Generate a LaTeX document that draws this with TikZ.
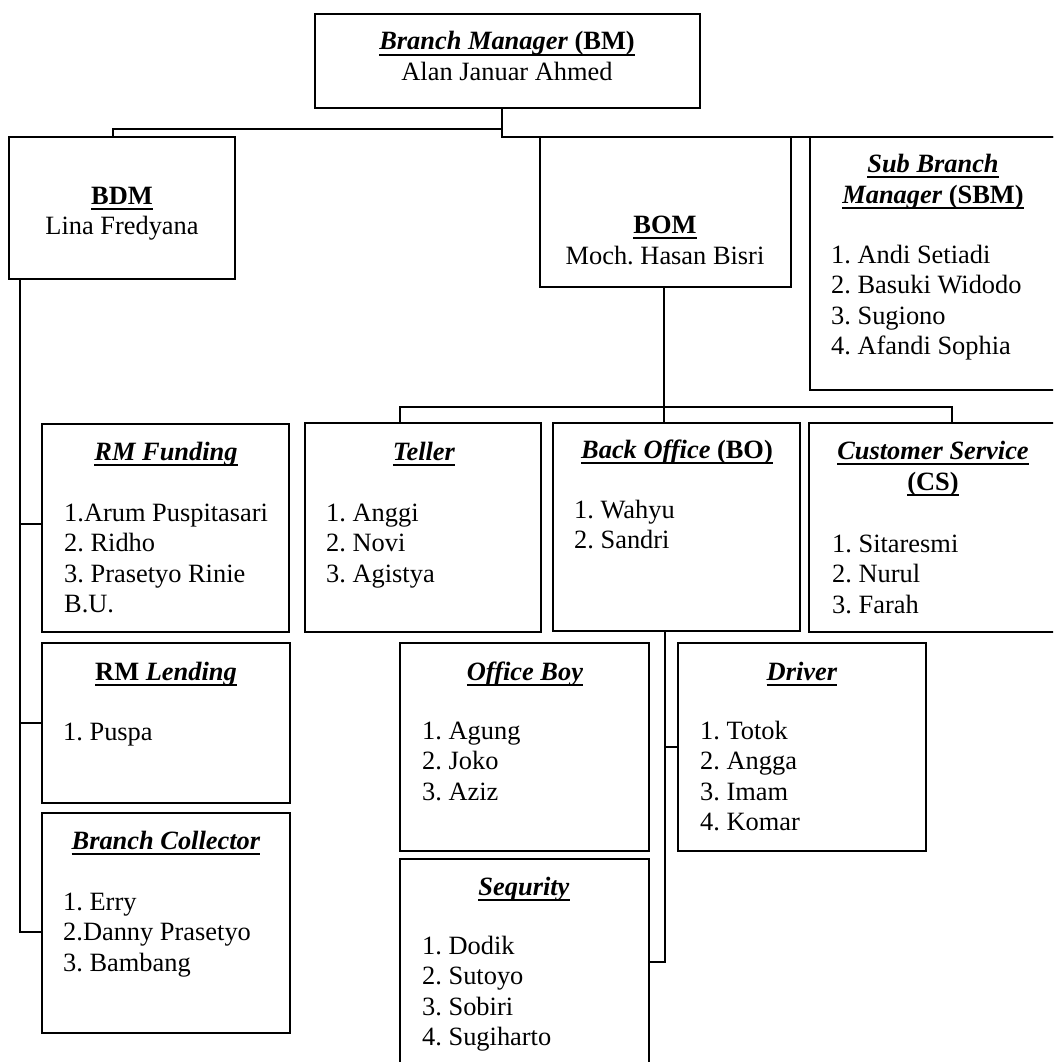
\documentclass[tikz,border=0pt]{standalone}
\usepackage{fontspec}
\setmainfont{Liberation Serif}
\usetikzlibrary{calc}
\frenchspacing
\newsavebox\ulbox
\newcommand\ulx[1]{\sbox\ulbox{#1}\rlap{\rule[-6pt]{\wd\ulbox}{2.4pt}}\usebox\ulbox}
\newcommand\listat[4]{%
  \foreach \t [count=\i from 0] in {#4}
    \node[itm] (#1-\i) at ({#2},{#3+30.5*\i}) {\t};}
\tikzset{
  box/.style={draw, line width=2.2pt, rectangle, inner sep=0pt, outer sep=0pt, anchor=north west},
  ttl/.style={anchor=base, inner sep=0pt},
  itm/.style={anchor=base west, inner sep=0pt},
  conn/.style={line width=2.2pt},
  every node/.append style={font=\frenchspacing\fontsize{26.4pt}{30.5pt}\selectfont}
}
\begin{document}
\begin{tikzpicture}[x=1pt,y=-1pt]
\fill[white] (0,0) rectangle (1053,1062);
\useasboundingbox (0,0) rectangle (1053,1062);
\clip (0,0) rectangle (1053,1062);

% boxes
\node[box, minimum width=385pt, minimum height=94pt] (bm) at (315,14) {};
\node[box, minimum width=226pt, minimum height=142pt] (bdm) at (9,137) {};
\node[box, minimum width=251pt, minimum height=150pt] (bom) at (540,137) {};
\node[box, minimum width=247pt, minimum height=253pt] (sbm) at (810,137) {};
\node[box, minimum width=247pt, minimum height=208pt] (rmf) at (42,424) {};
\node[box, minimum width=236pt, minimum height=209pt] (teller) at (305,423) {};
\node[box, minimum width=247pt, minimum height=208pt] (bo) at (553,423) {};
\node[box, minimum width=248pt, minimum height=209pt] (cs) at (809,423) {};
\node[box, minimum width=248pt, minimum height=160pt] (rml) at (42,643) {};
\node[box, minimum width=248pt, minimum height=220pt] (bc) at (42,813) {};
\node[box, minimum width=249pt, minimum height=208pt] (ob) at (400,643) {};
\node[box, minimum width=248pt, minimum height=208pt] (drv) at (678,643) {};
\node[box, minimum width=249pt, minimum height=230pt] (seq) at (400,859) {};

% connectors
\coordinate (bmo) at ($(bm.south)+(-5.5,0)$);
\draw[conn] (bmo) -- ($(bmo)+(0,29)$) -- (sbm.north east);
\draw[conn] ($(bmo)+(0,21)$) -| ($(bdm.north west)+(104,0)$);
\coordinate (vl) at ($(bdm.south west)+(11,0)$);
\draw[conn] (vl) |- ([yshift=-9pt]bc.west);
\draw[conn] (vl |- rmf.west) ++(0,-4) -- ([yshift=4pt]rmf.west);
\draw[conn] (vl |- rml.west) -- (rml.west);
\draw[conn] ([xshift=-1.5pt]bom.south) -- ([xshift=-1.5pt]bom.south |- bo.north);
\draw[conn] ([xshift=-23pt]teller.north) -- ++(0,-16) -| ([xshift=19pt]cs.north);
\draw[conn] ([xshift=-11.5pt]bo.south) |- ([yshift=-103pt]seq.north east);
\draw[conn] ([yshift=-104pt]drv.north west) -- ++(-13,0);

% texts
\node[ttl] (bm-t) at (507,50) {\ulx{\textbf{\textit{Branch Manager}} \textbf{(BM)}}};
\node[ttl] (bm-n) at (507,80.5) {Alan Januar Ahmed};
\node[ttl] (bdm-t) at (122,204) {\ulx{\textbf{BDM}}};
\node[ttl] (bdm-n) at (122,234) {Lina Fredyana};
\node[ttl] (bom-t) at (665,233) {\ulx{\textbf{BOM}}};
\node[ttl] (bom-n) at (665,264) {Moch. Hasan Bisri};
\node[ttl] (sbm-t1) at (933,172) {\ulx{\textbf{\textit{Sub Branch}}}};
\node[ttl] (sbm-t2) at (933,203) {\ulx{\textbf{\textit{Manager}} \textbf{(SBM)}}};
\listat{sbm}{831}{263}{1. Andi Setiadi, 2. Basuki Widodo, 3. Sugiono, 4. Afandi Sophia}
\node[ttl] (rmf-t) at (166,460) {\ulx{\textbf{\textit{RM Funding}}}};
\listat{rmf}{64}{521}{1.Arum Puspitasari, 2. Ridho, 3. Prasetyo Rinie, B.U.}
\node[ttl] (teller-t) at (424,460) {\ulx{\textbf{\textit{Teller}}}};
\listat{teller}{326}{521}{1. Anggi, 2. Novi, 3. Agistya}
\node[ttl] (bo-t) at (677,458) {\ulx{\textbf{\textit{Back Office}} \textbf{(BO)}}};
\listat{bo}{574}{518}{1. Wahyu, 2. Sandri}
\node[ttl] (cs-t1) at (933,459) {\ulx{\textbf{\textit{Customer Service}}}};
\node[ttl] (cs-t2) at (933,490) {\ulx{\textbf{(CS)}}};
\listat{cs}{832}{552}{1. Sitaresmi, 2. Nurul, 3. Farah}
\node[ttl] (rml-t) at (166,680) {\ulx{\textbf{RM \textit{Lending}}}};
\listat{rml}{63}{740}{1. Puspa}
\node[ttl] (bc-t) at (166,849) {\ulx{\textbf{\textit{Branch Collector}}}};
\listat{bc}{63}{910}{1. Erry, 2.Danny Prasetyo, 3. Bambang}
\node[ttl] (ob-t) at (525,680) {\ulx{\textbf{\textit{Office Boy}}}};
\listat{ob}{422}{739}{1. Agung, 2. Joko, 3. Aziz}
\node[ttl] (drv-t) at (802,680) {\ulx{\textbf{\textit{Driver}}}};
\listat{drv}{700}{739}{1. Totok, 2. Angga, 3. Imam, 4. Komar}
\node[ttl] (seq-t) at (524,895) {\ulx{\textbf{\textit{Sequrity}}}};
\listat{seq}{422}{954}{1. Dodik, 2. Sutoyo, 3. Sobiri, 4. Sugiharto}
\end{tikzpicture}
\end{document}
